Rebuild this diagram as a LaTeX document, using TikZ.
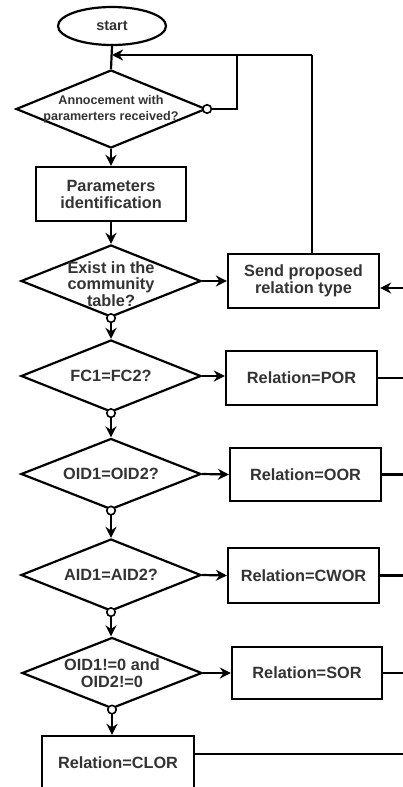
\documentclass[tikz,border=0pt]{standalone}
\usepackage{fontspec}
\setmainfont{Liberation Sans}
\usetikzlibrary{shapes.geometric,arrows.meta,calc}
\definecolor{txt}{HTML}{333333}
\begin{document}
\begin{tikzpicture}[x=1pt,y=-1pt,
  every node/.style={text=txt,font=\bfseries\fontsize{16.3}{17}\selectfont,align=center},
  line/.style={line width=2.2pt,draw=black},
  arr/.style={line, -{Stealth[length=11pt,width=11pt,inset=3.5pt]}},
  procbox/.style={draw=black,line width=2.2pt,rectangle,inner sep=0pt,minimum width=#1,minimum height=54pt},
  decide/.style={draw=black,line width=2.2pt,diamond,inner sep=0pt,minimum width=180pt,minimum height=72pt},
  dot/.style={circle,draw=black,fill=white,line width=1.6pt,inner sep=0pt,minimum size=8.5pt},
]
\useasboundingbox (0,0) rectangle (403,787);
\clip (0,0) rectangle (403,787);
% nodes
\node[draw=black,line width=2.2pt,ellipse,minimum width=108pt,minimum height=38pt,inner sep=0pt,font=\bfseries\fontsize{14.5}{15}\selectfont] (start) at (112,26) {start};
\node[decide,minimum width=190pt,minimum height=78pt,
  label={[font=\bfseries\fontsize{12.6}{16}\selectfont,text=txt,align=center]center:Annocement with\\paramerters received?}] (d1) at (111,109) {};
\node[procbox=150pt] (p1) at (111,194) {Parameters\\identification};
\node[decide,label={[text=txt,align=center,font=\bfseries\fontsize{16.3}{16.5}\selectfont,yshift=-3pt]center:Exist in the\\community\\table?}] (d2) at (111,281) {};
\node[procbox=151pt] (send) at (303.5,281) {Send proposed\\relation type};
\node[decide,label={[text=txt]center:FC1=FC2?}] (d3) at (111,376) {};
\node[procbox=151pt] (por) at (301.5,378) {Relation=POR};
\node[decide,minimum height=71pt,label={[text=txt]center:OID1=OID2?}] (d4) at (111,474) {};
\node[procbox=151pt,minimum height=53pt] (oor) at (305.5,474.5) {Relation=OOR};
\node[decide,label={[text=txt]center:AID1=AID2?}] (d5) at (111,575) {};
\node[procbox=151pt,minimum height=55pt] (cwor) at (303.5,575.5) {Relation=CWOR};
\node[decide,minimum height=71pt,label={[text=txt,align=center,font=\bfseries\fontsize{16.3}{17.5}\selectfont]center:OID1!=0 and\\OID2!=0}] (d6) at (112,673) {};
\node[procbox=150pt,minimum height=52pt] (sor) at (307,673) {Relation=SOR};
\node[procbox=152pt] (clor) at (118,763) {Relation=CLOR};
% helper coordinates
\coordinate (loopTR) at (312,55);
\coordinate (loopIn) at (237,55);
\coordinate (inR) at (415,288);
\coordinate (edge) at (415,0);
% connectors
\draw[line] (start.south) -- (d1.north);
\draw[arr] (loopTR) -- (loopTR -| start.south);
\draw[line] (send.north -| loopTR) -- (loopTR);
\draw[line] (d1.east) -- (d1.east -| loopIn) -- (loopIn);
\draw[arr] (d1.south) -- (p1.north);
\draw[arr] (p1.south) -- (d2.north);
\draw[arr] (d2.east) -- (send.west);
\draw[arr] (inR) -- (inR -| send.east);
\draw[arr] (d2.south) -- (d3.north);
\draw[arr] (d3.east) -- (d3.east -| por.west);
\draw[line] (por.east) -- (por.east -| edge);
\draw[arr] (d3.south) -- (d4.north);
\draw[arr] (d4.east) -- (oor.west);
\draw[line] (oor.east) -- (oor.east -| edge);
\draw[arr] (d4.south) -- (d5.north);
\draw[arr] (d5.east) -- (cwor.west);
\draw[line] (cwor.east) -- (cwor.east -| edge);
\draw[arr] (d5.south) -- (d5.south |- d6.north);
\draw[arr] (d6.east) -- (sor.west);
\draw[line] (sor.east) -- (sor.east -| edge);
\draw[arr] (d6.south) -- (d6.south |- clor.north);
\draw[line] ($(clor.north east)+(0,19)$) coordinate (ce) -- (ce -| edge);
% decision circles
\node[dot] (c1) at (d1.east) {};
\node[dot] (c2) at (d2.south) {};
\node[dot] (c3) at (d3.south) {};
\node[dot] (c4) at (d4.south) {};
\node[dot] (c5) at (d5.south) {};
\node[dot] (c6) at (d6.south) {};
\end{tikzpicture}
\end{document}
